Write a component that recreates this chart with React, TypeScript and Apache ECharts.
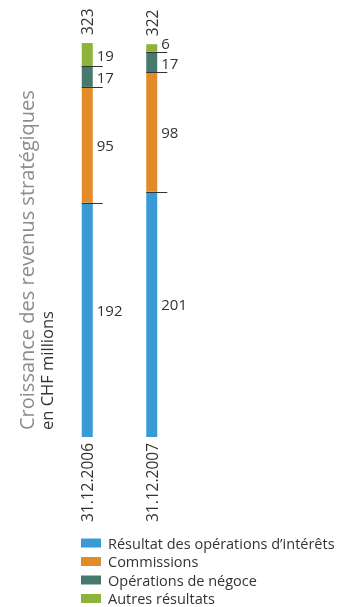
import React, { useEffect, useRef } from "react";
import * as echarts from "echarts";

const categories = ["31.12.2006", "31.12.2007"];
const seriesNames = [
  "Résultat des opérations d’intérêts",
  "Commissions",
  "Opérations de négoce",
  "Autres résultats",
];
const interets = [192, 201];
const commissions = [95, 98];
const negoce = [17, 17];
const autres = [19, 6];
const totals = [323, 322];

const colors = ["#389bd7", "#e38b28", "#467a6e", "#8db33b"];
const FONT = "'Open Sans', 'Noto Sans', sans-serif";

export default function App() {
  const ref = useRef<HTMLDivElement>(null);
  useEffect(() => {
    if (!ref.current) return;
    const chart = echarts.init(ref.current, null, { renderer: "svg" });
    const stacks = [interets, commissions, negoce, autres];
    const boundaries: number[][] = [];
    categories.forEach((_, ci) => {
      let acc = 0;
      for (let k = 0; k < stacks.length - 1; k++) {
        acc += stacks[k][ci];
        boundaries.push([ci, acc]);
      }
    });
    const halfBar = 5.5;
    const labelOffsets: Record<number, number[][]> = {
      0: [[0, -10], [0, -10]],
      2: [[0, 0], [0, 1]],
      3: [[0, 0], [0, -5]],
    };
    const barSeries = stacks.map((vals, si) => ({
      name: seriesNames[si],
      type: "bar",
      stack: "total",
      barWidth: 11,
      itemStyle: { color: colors[si] },
      label: {
        show: true,
        position: "right",
        distance: 4,
        fontSize: 15,
        lineHeight: 15,
        color: "#333",
        fontFamily: FONT,
      },
      data: vals.map((v, ci) => ({
        value: v,
        label: labelOffsets[si] ? { offset: labelOffsets[si][ci] } : undefined,
      })),
    }));
    chart.setOption({
      animation: false,
      grid: { left: 55, width: 129, top: 43, height: 394 },
      xAxis: {
        type: "category",
        data: categories,
        axisLine: { show: false },
        axisTick: { show: false },
        axisLabel: {
          rotate: 90,
          margin: 6,
          fontSize: 15.5,
          color: "#333",
          fontFamily: FONT,
        },
      },
      yAxis: { type: "value", min: 0, max: 323, show: false },
      legend: {
        orient: "vertical",
        left: 81,
        top: 535,
        padding: 0,
        itemWidth: 20,
        itemHeight: 9,
        itemGap: 2.5,
        icon: "rect",
        data: seriesNames,
        textStyle: {
          fontSize: 14.5,
          lineHeight: 16,
          color: "#333",
          fontFamily: FONT,
          padding: [0, 0, 0, 2],
        },
      },
      graphic: [
        {
          type: "text",
          x: 26,
          y: 430,
          rotation: Math.PI / 2,
          style: {
            text: "Croissance des revenus stratégiques",
            fontSize: 20,
            fill: "#8c8c8c",
            fontFamily: FONT,
            align: "left",
            verticalAlign: "middle",
          },
        },
        {
          type: "text",
          x: 46,
          y: 430,
          rotation: Math.PI / 2,
          style: {
            text: "en CHF millions",
            fontSize: 16.5,
            fill: "#333",
            fontFamily: FONT,
            align: "left",
            verticalAlign: "middle",
          },
        },
      ],
      series: [
        ...barSeries,
        {
          type: "custom",
          z: 5,
          silent: true,
          data: boundaries,
          renderItem: (params: any, api: any) => {
            const p = api.coord([api.value(0), api.value(1)]);
            const y = Math.round(p[1]) + 0.5;
            return {
              type: "line",
              shape: { x1: p[0] - halfBar, y1: y, x2: p[0] + halfBar + 10, y2: y },
              style: { stroke: "#333", lineWidth: 1 },
            };
          },
        },
        {
          type: "custom",
          z: 5,
          silent: true,
          data: totals.map((t, i) => [i, t]),
          renderItem: (params: any, api: any) => {
            const p = api.coord([api.value(0), api.value(1)]);
            return {
              type: "text",
              x: p[0],
              y: p[1] - 8,
              rotation: Math.PI / 2,
              style: {
                text: String(api.value(1)),
                fontSize: 15.5,
                fill: "#333",
                fontFamily: FONT,
                align: "left",
                verticalAlign: "middle",
              },
            };
          },
        },
      ],
    });
    return () => chart.dispose();
  }, []);
  return (
    <div
      ref={ref}
      style={{ position: "fixed", left: 0, top: 0, width: 345, height: 607 }}
    />
  );
}
